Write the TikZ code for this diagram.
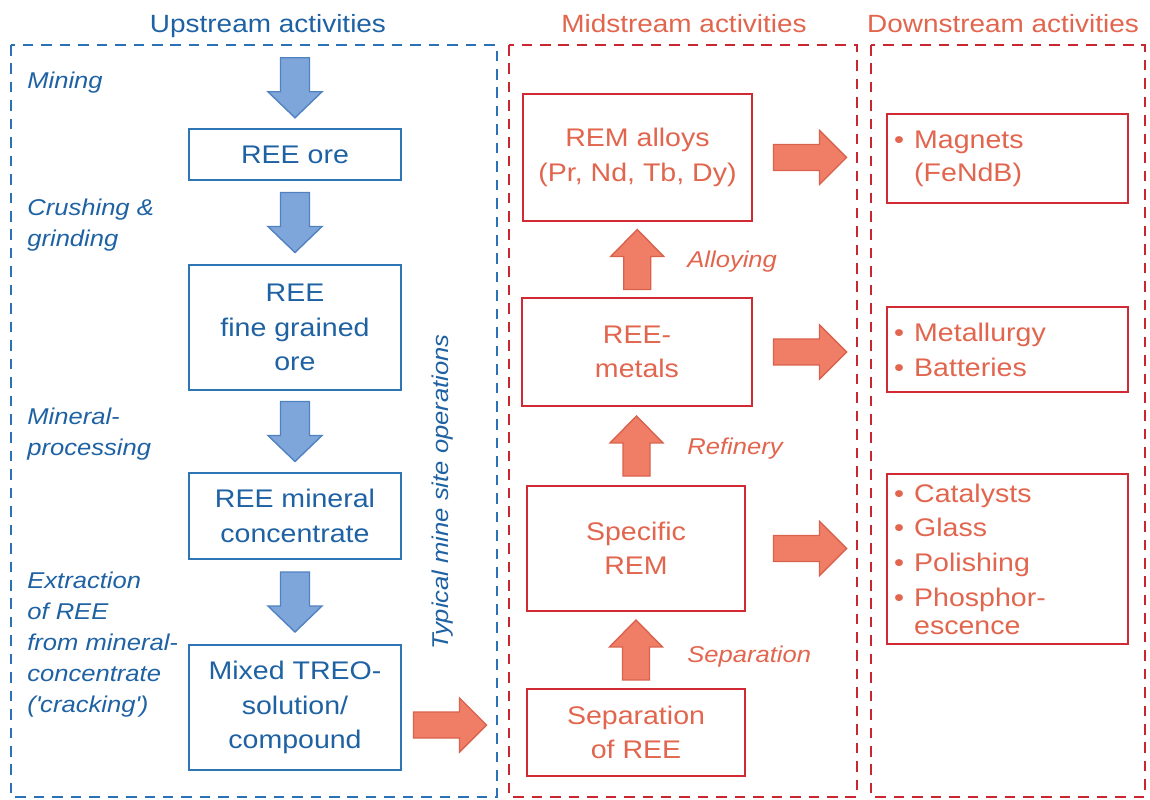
\documentclass[tikz,border=0pt]{standalone}
\usepackage{fontspec}
\setmainfont[FakeStretch=1.12]{Liberation Sans}
\usetikzlibrary{calc}

\definecolor{upText}{HTML}{1F62A3}
\definecolor{upLine}{HTML}{2E75B6}
\definecolor{upDash}{HTML}{2A72B5}
\definecolor{upArrFill}{HTML}{7FA6DA}
\definecolor{upArrLine}{HTML}{5082C2}
\definecolor{rdText}{HTML}{E2654E}
\definecolor{rdLine}{HTML}{D22A35}
\definecolor{rdDash}{HTML}{C92632}
\definecolor{rdArrFill}{HTML}{F07E66}
\definecolor{rdArrLine}{HTML}{D9624D}

\begin{document}
\begin{tikzpicture}[x=0.02cm,y=-0.02cm,
  titlefont/.style={font=\fontsize{14.2}{17}\selectfont},
  boxtext/.style={font=\fontsize{14.5}{19.5}\selectfont},
  steplabel/.style={font=\fontsize{13}{17.6}\selectfont\itshape, inner sep=0pt, align=left},
  zone/.style={line width=1.2pt, dash pattern=on 6pt off 4.5pt},
  ubox/.style={draw=upLine, line width=1.4pt, fill=white, text=upText, inner sep=0pt, align=center, boxtext},
  mbox/.style={draw=rdLine, line width=1.4pt, fill=white, text=rdText, inner sep=0pt, align=center, boxtext},
  dbox/.style={draw=rdLine, line width=1.4pt, fill=white, text=rdText, anchor=north west,
               inner xsep=0.14cm, inner ysep=0pt, align=left, text width=4.54cm,
               minimum width=4.82cm, font=\fontsize{14.5}{16}\selectfont},
  blueArrow/.style={fill=upArrFill, draw=upArrLine, line width=0.8pt, line join=miter},
  redArrow/.style={fill=rdArrFill, draw=rdArrLine, line width=0.8pt, line join=miter},
  dnarr/.pic={\path[blueArrow] (-14.5,-30) -- (14.5,-30) -- (14.5,4) -- (27,4) -- (0,30)
                -- (-27,4) -- (-14.5,4) -- cycle;},
  uparr/.pic={\path[redArrow] (-13.5,30) -- (13.5,30) -- (13.5,-3) -- (26.5,-3) -- (0,-30)
                -- (-26.5,-3) -- (-13.5,-3) -- cycle;},
  rtarr/.pic={\path[redArrow] (-36.5,-13) -- (9.5,-13) -- (9.5,-27) -- (36.5,0) -- (9.5,27)
                -- (9.5,13) -- (-36.5,13) -- cycle;}
]
\useasboundingbox[fill=white] (0,0) rectangle (1150,800);

% activity zones
\draw[zone, draw=upDash] (11,45) rectangle (497,797);
\draw[zone, draw=rdDash] (509,45) rectangle (857,797);
\draw[zone, draw=rdDash] (871,45) rectangle (1145,797);

% zone titles
\node[titlefont, text=upText, anchor=base] (tup) at (268,33) {Upstream activities};
\node[titlefont, text=rdText, anchor=base] (tmid) at (684,33) {Midstream activities};
\node[titlefont, text=rdText, anchor=base] (tdown) at (1003,33) {Downstream activities};

% upstream chain
\node[ubox, minimum width=4.24cm, minimum height=1.02cm] (ore) at (295,154.5) {REE ore};
\node[ubox, minimum width=4.24cm, minimum height=2.50cm] (fine) at (295,327.5) {REE\\fine grained\\ore};
\node[ubox, minimum width=4.24cm, minimum height=1.72cm] (conc) at (295,516) {REE mineral\\concentrate};
\node[ubox, minimum width=4.24cm, minimum height=2.50cm] (treo) at (295,707.5) {Mixed TREO-\\solution/\\compound};

\pic at ($(ore.north)+(0,-40)$) {dnarr};
\pic at ($(ore.south)!0.5!(fine.north)$) {dnarr};
\pic at ($(fine.south)!0.5!(conc.north)$) {dnarr};
\pic at ($(conc.south)!0.5!(treo.north)$) {dnarr};

\node[steplabel, text=upText, anchor=north west] (lmine) at (27,72) {Mining};
\node[steplabel, text=upText, anchor=north west] (lcrush) at (27,199) {Crushing \&\\grinding};
\node[steplabel, text=upText, anchor=north west] (lproc) at (27,408) {Mineral-\\processing};
\node[steplabel, text=upText, anchor=north west] (lext) at (27,572)
  {Extraction\\of REE\\from mineral-\\concentrate\\(\textquotesingle cracking\textquotesingle)};

\node[steplabel, text=upText, rotate=90] (lsite) at (443,492) {Typical mine site operations};

% midstream chain
\node[mbox, minimum width=4.58cm, minimum height=2.54cm] (alloys) at (637.5,157.5) {REM alloys\\(Pr, Nd, Tb, Dy)};
\node[mbox, minimum width=4.60cm, minimum height=2.16cm] (metals) at (637,352) {REE-\\metals};
\node[mbox, minimum width=4.36cm, minimum height=2.50cm] (spec) at (636,548.5) {Specific\\REM};
\node[mbox, minimum width=4.36cm, minimum height=1.74cm] (sepree) at (636,732.5) {Separation\\of REE};

\pic at ($(metals.north)!0.5!(alloys.south)$) {uparr};
\pic at ($(spec.north)!0.5!(metals.south)$) {uparr};
\pic at ($(sepree.north)!0.5!(spec.south)$) {uparr};

\node[steplabel, text=rdText, anchor=base west] (lalloy) at (687,268) {Alloying};
\node[steplabel, text=rdText, anchor=base west] (lrefine) at (687,455) {Refinery};
\node[steplabel, text=rdText, anchor=base west] (lsep) at (687,662) {Separation};

% hand-over from the mine site to separation
\coordinate (handover) at (450,725);
\pic at (handover) {rtarr};

% downstream uses
\node[dbox, minimum height=1.78cm] (magnets) at (886,113)
  {\makebox[0.4cm][l]{•}Magnets\\[0.1cm]\hspace*{0.4cm}(FeNdB)};
\node[dbox, minimum height=1.70cm] (metal) at (886,306)
  {\makebox[0.4cm][l]{•}Metallurgy\\[0.13cm]\makebox[0.4cm][l]{•}Batteries};
\node[dbox, minimum height=3.40cm] (cata) at (886,473)
  {\makebox[0.4cm][l]{•}Catalysts\\[0.13cm]\makebox[0.4cm][l]{•}Glass\\[0.13cm]%
   \makebox[0.4cm][l]{•}Polishing\\[0.13cm]\makebox[0.4cm][l]{•}Phosphor-\\\hspace*{0.4cm}escence};

\coordinate (xr) at (810,0);
\pic at (alloys.east -| xr) {rtarr};
\pic at (metals.east -| xr) {rtarr};
\pic at (spec.east -| xr) {rtarr};
\end{tikzpicture}
\end{document}
